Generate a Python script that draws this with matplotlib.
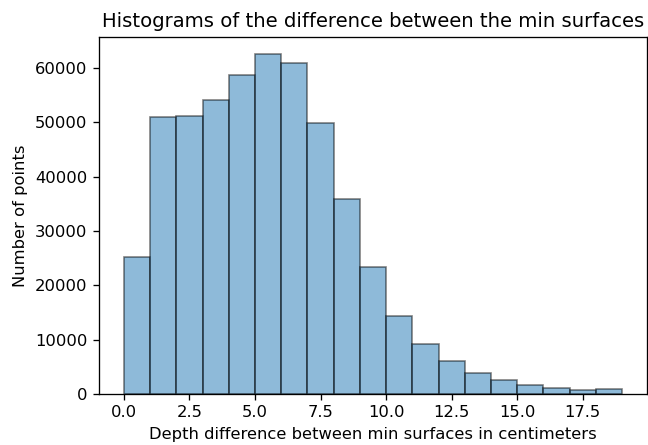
import matplotlib
matplotlib.use("Agg")
import matplotlib.pyplot as plt
import numpy as np

# Data
bin_edges = list(range(0, 20))  # 0..19, width 1
counts = [25200, 51000, 51200, 54100, 58700, 62600, 61000, 49900, 35900, 23300,
          14300, 9200, 6100, 3900, 2600, 1700, 1100, 800, 950]

title = "Histograms of the difference between the min surfaces"
xlabel = "Depth difference between min surfaces in centimeters"
ylabel = "Number of points"

DPI = 118
fig = plt.figure(figsize=(648 / DPI, 445 / DPI), dpi=DPI)
ax = fig.add_axes([99 / 648, 1 - 394 / 445, 548 / 648, 357 / 445])

centers = np.array(bin_edges[:-1]) + 0.5
ax.hist(centers, bins=bin_edges, weights=counts, alpha=0.5, edgecolor='black',
        color='#1f77b4', linewidth=1.0)

ax.set_title(title)
ax.set_xlabel(xlabel)
ax.set_ylabel(ylabel)

fig.savefig("out.png", dpi=DPI)
